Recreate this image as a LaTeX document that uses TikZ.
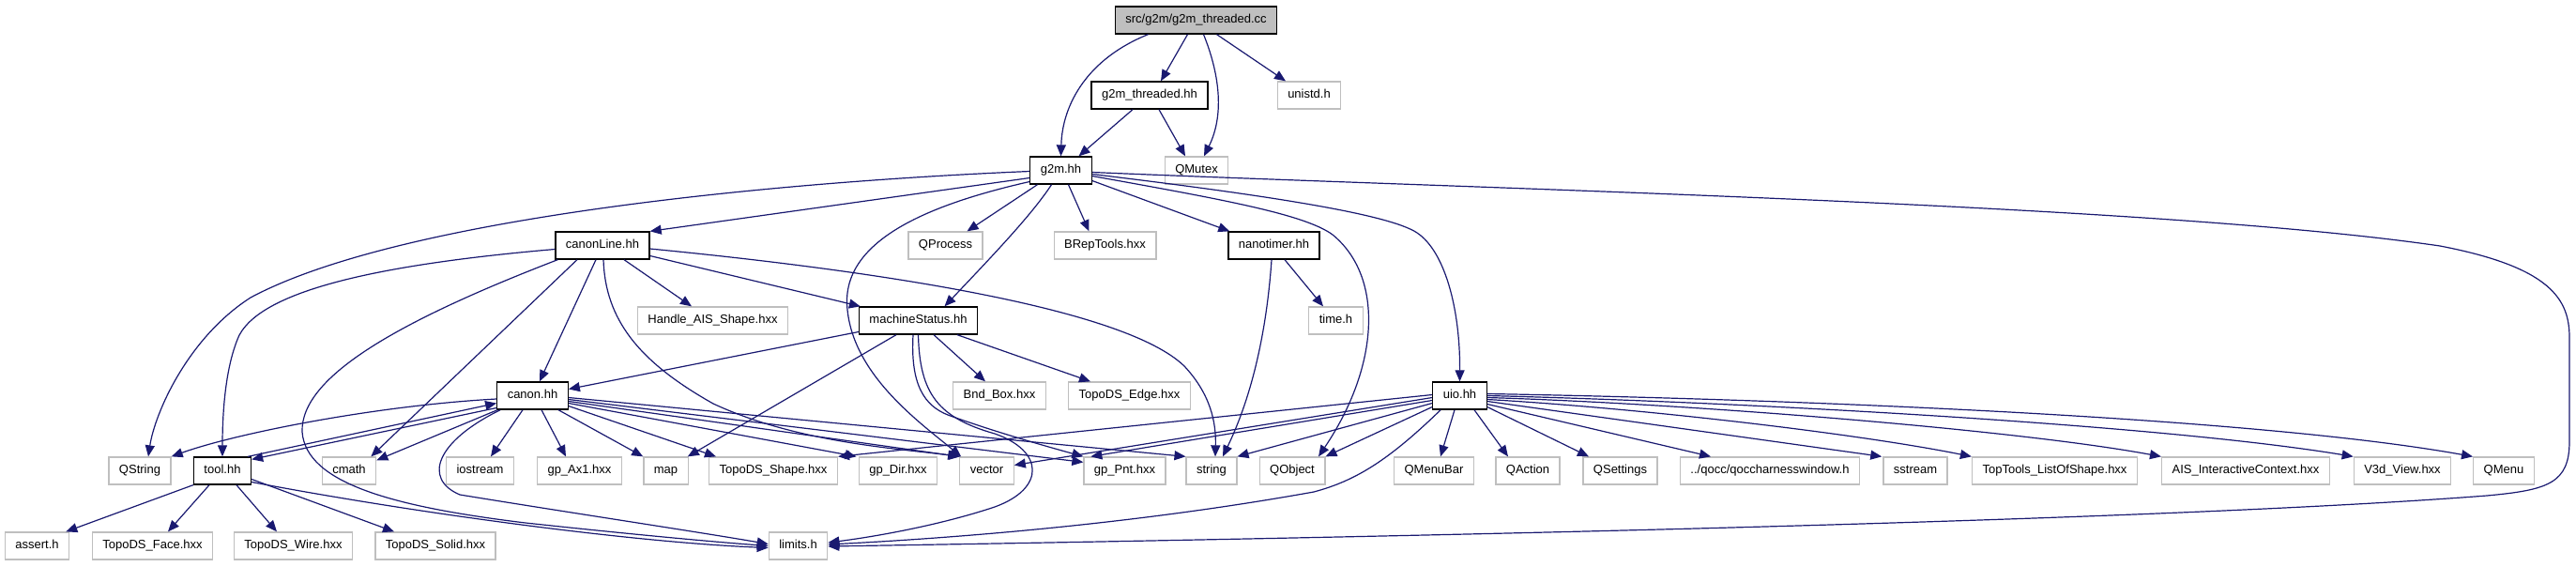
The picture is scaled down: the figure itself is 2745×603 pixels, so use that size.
\documentclass[tikz,border=0pt]{standalone}
\usepackage{fontspec}
\setmainfont{Liberation Sans}
\usetikzlibrary{arrows.meta,calc}
\definecolor{edgeblue}{HTML}{191970}
\definecolor{grayb}{HTML}{BFBFBF}
\begin{document}
\begin{tikzpicture}[x=1pt,y=-1pt,
  hbox/.style={draw=black,line width=1.3pt,fill=white,minimum height=29pt,inner xsep=11pt,inner ysep=0pt,
    font=\fontsize{13}{15}\selectfont,text height=9.5pt,text depth=2.8pt},
  xbox/.style={hbox,draw=grayb},
  rootbox/.style={hbox,fill=grayb},
  dep/.style={draw=edgeblue,line width=1.2pt,-{Triangle[length=12pt,width=10pt]}}]
\useasboundingbox (0,0) rectangle (2745,603);
% row 0-2
\node[rootbox] (cc) at (1274.5,21.5) {src/g2m/g2m\_threaded.cc};
\node[hbox] (thh) at (1225,101.5) {g2m\_threaded.hh};
\node[xbox] (unistd) at (1395,101.5) {unistd.h};
\node[hbox] (g2m) at (1130.5,181.5) {g2m.hh};
\node[xbox] (qmutex) at (1275,181.5) {QMutex};
% row 3
\node[hbox] (canonline) at (642,261.5) {canonLine.hh};
\node[xbox] (qprocess) at (1007.5,261.5) {QProcess};
\node[xbox] (breptools) at (1177.5,261.5) {BRepTools.hxx};
\node[hbox] (nano) at (1357.5,261.5) {nanotimer.hh};
% row 4
\node[xbox] (handle) at (759.5,341.5) {Handle\_AIS\_Shape.hxx};
\node[hbox] (mstatus) at (978.5,341.5) {machineStatus.hh};
\node[xbox] (timeh) at (1423.5,341.5) {time.h};
% row 5
\node[hbox] (canon) at (567.5,421.5) {canon.hh};
\node[xbox] (bndbox) at (1065,421.5) {Bnd\_Box.hxx};
\node[xbox] (edgehxx) at (1203.5,421.5) {TopoDS\_Edge.hxx};
\node[hbox] (uio) at (1555.5,421.5) {uio.hh};
% row 6
\node[xbox] (qstring) at (149,501.5) {QString};
\node[hbox] (tool) at (237,501.5) {tool.hh};
\node[xbox] (cmath) at (372,501.5) {cmath};
\node[xbox] (iostream) at (511.5,501.5) {iostream};
\node[xbox] (ax1) at (617.5,501.5) {gp\_Ax1.hxx};
\node[xbox] (map) at (709.5,501.5) {map};
\node[xbox] (shape) at (824,501.5) {TopoDS\_Shape.hxx};
\node[xbox] (dir) at (957,501.5) {gp\_Dir.hxx};
\node[xbox] (vector) at (1051.5,501.5) {vector};
\node[xbox] (pnt) at (1198.5,501.5) {gp\_Pnt.hxx};
\node[xbox] (string) at (1291,501.5) {string};
\node[xbox] (qobject) at (1377,501.5) {QObject};
\node[xbox] (menubar) at (1528,501.5) {QMenuBar};
\node[xbox] (qaction) at (1628,501.5) {QAction};
\node[xbox] (qsettings) at (1726.5,501.5) {QSettings};
\node[xbox] (qocc) at (1886,501.5) {../qocc/qoccharnesswindow.h};
\node[xbox] (sstream) at (2041,501.5) {sstream};
\node[xbox] (toptools) at (2189.5,501.5) {TopTools\_ListOfShape.hxx};
\node[xbox] (ais) at (2393,501.5) {AIS\_InteractiveContext.hxx};
\node[xbox] (v3d) at (2560,501.5) {V3d\_View.hxx};
\node[xbox] (qmenu) at (2668,501.5) {QMenu};
% row 7
\node[xbox] (assert) at (39.5,581.5) {assert.h};
\node[xbox] (face) at (162.5,581.5) {TopoDS\_Face.hxx};
\node[xbox] (wire) at (312.5,581.5) {TopoDS\_Wire.hxx};
\node[xbox] (solid) at (464,581.5) {TopoDS\_Solid.hxx};
\node[xbox] (limits) at (850.5,581.5) {limits.h};

% root
\draw[dep] ([xshift=-51pt]cc.south) .. controls (1160,62) and (1132,110) .. (g2m.north);
\draw[dep] ([xshift=-9pt]cc.south) -- ([xshift=12pt]thh.north);
\draw[dep] ([xshift=8pt]cc.south) .. controls (1298,75) and (1306,120) .. ([xshift=8pt]qmutex.north);
\draw[dep] ([xshift=22pt]cc.south) -- ([xshift=-25pt]unistd.north);
\draw[dep] ([xshift=-18pt]thh.south) -- ([xshift=19pt]g2m.north);
\draw[dep] ([xshift=10pt]thh.south) -- ([xshift=-12pt]qmutex.north);
% g2m
\draw[dep] ([yshift=-8pt]g2m.west) -- (canonline.north east);
\draw[dep] ([yshift=-1pt]g2m.west) .. controls (800,195) and (420,235) .. (267,317) .. controls (200,360) and (165,440) .. ([xshift=9pt]qstring.north);
\draw[dep] ([yshift=-12pt]g2m.west) .. controls (980,220) and (895,260) .. (903,330) .. controls (910,400) and (980,450) .. ([xshift=2pt]vector.north west);
\draw[dep] ([xshift=-25pt]g2m.south) -- ([xshift=23pt]qprocess.north);
\draw[dep] ([xshift=-10pt]g2m.south) .. controls (1100,228) and (1060,270) .. ([xshift=28pt]mstatus.north);
\draw[dep] ([xshift=8pt]g2m.south) -- ([xshift=-17pt]breptools.north);
\draw[dep] ([yshift=-11pt]g2m.east) -- ([xshift=2pt]nano.north west);
\draw[dep] ([yshift=-6pt]g2m.east) .. controls (1300,212) and (1390,228) .. (1420,250) .. controls (1475,295) and (1470,390) .. ([xshift=28pt]qobject.north);
\draw[dep] ([yshift=-4pt]g2m.east) .. controls (1350,208) and (1480,228) .. (1510,248) .. controls (1540,268) and (1556,330) .. (uio.north);
\draw[dep] ([yshift=-2pt]g2m.east) .. controls (1600,202) and (2300,218) .. (2600,262) .. controls (2720,285) and (2738,320) .. (2738,360) -- (2738,470) .. controls (2738,515) and (2715,522) .. (2650,528) .. controls (2300,555) and (1500,572) .. ([yshift=-0.5pt]limits.east);
% nanotimer
\draw[dep] ([xshift=11.5pt]nano.south) -- ([xshift=-13.5pt]timeh.north);
\draw[dep] ([xshift=-2.5pt]nano.south) .. controls (1350,350) and (1335,420) .. ([xshift=12pt]string.north);
% canonLine
\draw[dep] ([yshift=-3.5pt]canonline.east) .. controls (950,290) and (1200,330) .. (1262,390) .. controls (1290,420) and (1296,450) .. ([xshift=4pt]string.north);
\draw[dep] ([xshift=23pt]canonline.south) -- ([xshift=-22.5pt]handle.north);
\draw[dep] ([yshift=-11pt]canonline.east) -- ([xshift=2pt]mstatus.north west);
\draw[dep] ([xshift=-7pt]canonline.south) -- ([xshift=7.5pt]canon.north);
\draw[dep] ([yshift=-4pt]canonline.west) .. controls (400,282) and (280,310) .. (255,357) .. controls (240,390) and (237,440) .. (tool.north);
\draw[dep] ([xshift=-27pt]canonline.south) -- ([xshift=-6pt]cmath.north east);
\draw[dep] ([xshift=3pt]canonline.south west) .. controls (430,340) and (320,400) .. (322,460) .. controls (326,515) and (420,540) .. (560,557) .. controls (680,570) and (770,578) .. (limits.west);
\draw[dep] ([xshift=1pt]canonline.south) .. controls (645,340) and (680,385) .. (760,430) .. controls (850,472) and (960,478) .. ([xshift=1pt]vector.north west);
% machineStatus
\draw[dep] ([yshift=-12pt]mstatus.west) -- ([yshift=7pt]canon.east);
\draw[dep] ([xshift=-23.5pt]mstatus.south) -- ([xshift=-1pt]map.north east);
\draw[dep] ([xshift=16.5pt]mstatus.south) -- ([xshift=-15pt]bndbox.north);
\draw[dep] ([xshift=41.5pt]mstatus.south) -- ([xshift=-41.5pt]edgehxx.north);
\draw[dep] ([xshift=-5.5pt]mstatus.south) .. controls (970,410) and (985,432) .. (1010,442) .. controls (1060,460) and (1110,474) .. (pnt.north west);
\draw[dep] (mstatus.south) .. controls (980,420) and (1000,445) .. (1060,462) .. controls (1112,480) and (1115,520) .. (1060,540) .. controls (1000,560) and (930,572) .. ([yshift=3.5pt]limits.east);
% canon
\draw[dep] ([yshift=-3.5pt]canon.west) .. controls (400,432) and (250,462) .. (qstring.north east);
\draw[dep] ([yshift=-13pt]canon.west) -- ([yshift=-3pt]tool.north east);
\draw[dep] ([xshift=-4pt]tool.north east) -- ([yshift=-8pt]canon.west);
\draw[dep] ([xshift=1pt]canon.south west) -- ([yshift=-4pt]cmath.north east);
\draw[dep] ([xshift=-10.5pt]canon.south) -- ([xshift=11.5pt]iostream.north);
\draw[dep] ([xshift=9.5pt]canon.south) -- ([xshift=-14.5pt]ax1.north);
\draw[dep] ([xshift=27.5pt]canon.south) -- (map.north west);
\draw[dep] ([yshift=-11pt]canon.east) -- ([xshift=-61pt]shape.north);
\draw[dep] ([yshift=-8pt]canon.east) -- ([xshift=-2pt]dir.north west);
\draw[dep] ([yshift=-6pt]canon.east) -- (vector.north west);
\draw[dep] ([yshift=-4pt]canon.east) -- ([yshift=-6pt]pnt.north west);
\draw[dep] ([yshift=-2pt]canon.east) -- (string.north west);
\draw[dep] ([xshift=4pt]canon.south west) .. controls (465,470) and (450,510) .. (490,527) .. controls (600,545) and (740,566) .. ([yshift=2pt]limits.west);
% tool
\draw[dep] (tool.south west) -- ([xshift=-4pt]assert.north east);
\draw[dep] ([xshift=-14pt]tool.south) -- ([xshift=16.5pt]face.north);
\draw[dep] ([xshift=15pt]tool.south) -- ([xshift=-17.5pt]wire.north);
\draw[dep] ([yshift=-9pt]tool.east) -- ([xshift=-44pt]solid.north);
\draw[dep] ([yshift=-12pt]tool.east) .. controls (450,548) and (680,578) .. ([yshift=-2pt]limits.west);
% uio
\draw[dep] ([yshift=1pt]uio.west) -- (shape.north east);
\draw[dep] ([yshift=-2pt]uio.west) -- ([yshift=6pt]vector.east);
\draw[dep] ([yshift=-5pt]uio.west) -- ([xshift=8pt]pnt.north west);
\draw[dep] ([yshift=-8pt]uio.west) -- (string.north east);
\draw[dep] ([yshift=-12pt]uio.west) -- (qobject.north east);
\draw[dep] ([xshift=9pt]uio.south west) .. controls (1480,490) and (1445,512) .. (1400,524) .. controls (1200,560) and (1000,574) .. ([yshift=1.5pt]limits.east);
\draw[dep] ([xshift=-5.5pt]uio.south) -- ([xshift=7pt]menubar.north);
\draw[dep] ([xshift=15.5pt]uio.south) -- ([xshift=-21pt]qaction.north);
\draw[dep] ([yshift=-12pt]uio.east) -- ([xshift=-33.5pt]qsettings.north);
\draw[dep] ([yshift=-9pt]uio.east) -- ([xshift=-63pt]qocc.north);
\draw[dep] ([yshift=-6pt]uio.east) -- ([xshift=-1pt]sstream.north west);
\draw[dep] ([yshift=-4pt]uio.east) .. controls (1750,435) and (1980,462) .. (toptools.north west);
\draw[dep] ([yshift=-2pt]uio.east) .. controls (1800,430) and (2150,458) .. (ais.north west);
\draw[dep] (uio.east) .. controls (1850,428) and (2300,452) .. (v3d.north west);
\draw[dep] ([yshift=2pt]uio.east) .. controls (1900,425) and (2400,444) .. (qmenu.north west);
\end{tikzpicture}
\end{document}
